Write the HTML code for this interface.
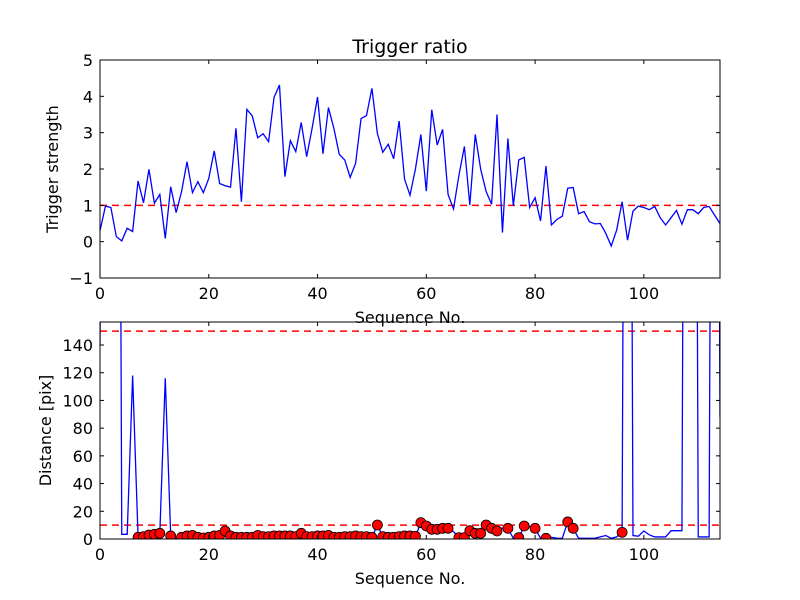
<!DOCTYPE html>
<html><head><meta charset="utf-8"><style>
body{margin:0;background:#fff;}
svg{display:block;font-family:"DejaVu Sans","Liberation Sans",sans-serif;}
</style></head><body>
<svg id="c" width="800" height="600"></svg>
<script>
const indices = Array.from({length:115},(_,i)=>i);
const triggerValues = [0.3,0.98,0.94,0.14,0.02,0.37,0.28,1.67,1.07,1.99,1.06,1.30,0.09,1.51,0.8,1.38,2.2,1.35,1.65,1.35,1.74,2.5,1.6,1.54,1.5,3.12,1.1,3.64,3.46,2.86,2.97,2.75,3.97,4.31,1.79,2.78,2.48,3.28,2.34,3.12,3.98,2.42,3.69,3.12,2.4,2.25,1.77,2.16,3.39,3.47,4.22,2.98,2.46,2.68,2.28,3.32,1.72,1.28,2.0,2.95,1.39,3.63,2.66,3.09,1.3,0.9,1.83,2.62,1.01,2.95,1.99,1.38,1.03,3.5,0.25,2.84,0.99,2.25,2.32,0.94,1.21,0.57,2.08,0.46,0.61,0.7,1.47,1.49,0.77,0.83,0.55,0.49,0.5,0.23,-0.12,0.32,1.1,0.04,0.84,0.98,0.94,0.88,0.97,0.66,0.46,0.66,0.86,0.48,0.88,0.88,0.77,0.94,0.97,0.73,0.5];
const distanceValues = [140,1000,1000,1000,3.4,3.4,118,1.2,1.7,2.9,3.4,4.1,116,2.2,0.5,1.2,2.2,2.6,1.2,0.7,1.2,2.2,2.6,5.8,2.2,1.2,1.2,1.2,1.2,2.6,1.7,1.7,2.2,2.2,2.2,2.2,1.7,4.1,1.7,1.7,2.2,2.2,2.6,1.2,1.2,1.7,1.7,2.2,1.7,1.7,1.2,10.1,1.7,1.2,1.2,1.7,2.2,2.2,2,11.8,9.4,7,7,7.7,7.7,5.3,1,1,6,4.1,4.1,10.1,7.7,5.8,8,7.7,0.5,1,9.4,9,7.7,0.5,0.5,1.2,0.5,0.5,12.3,7.7,0.5,0.5,0.5,0.5,1.5,2.5,0.5,1.5,4.8,1000,2.5,2,5.8,3,1.5,1.5,1.5,6,6,6,1000,1000,1.5,1.5,1.5,1000,88];
const triggerThreshold = 1;
const distanceThreshold = [10,150];
const xTicks = [0,20,40,60,80,100];
const topYTicks = [-1,0,1,2,3,4,5];
const botYTicks = [0,20,40,60,80,100,120,140];

const NS="http://www.w3.org/2000/svg", svg=document.getElementById('c');
function mk(t,a,p){const e=document.createElementNS(NS,t);for(const k in a)e.setAttribute(k,a[k]);(p||svg).appendChild(e);return e;}
const L=100,R=720,X0=0,X1=114;
const sx=v=>L+(v-X0)/(X1-X0)*(R-L);

function panel(name,top,bot,y0,y1,yt,vals,hlines,xlabel,ylabel,ylx,title){
  const sy=v=>bot-(v-y0)/(y1-y0)*(bot-top);
  const g=mk('g',{});
  
  
  const cp=mk('clipPath',{id:name+'-clip'},g);mk('rect',{x:L,y:top,width:R-L,height:bot-top},cp);
  const plot=mk('g',{'clip-path':'url(#'+name+'-clip)'},g);
  hlines.forEach(h=>{const l=mk('line',{x1:L,x2:R,y1:sy(h),y2:sy(h),stroke:'#f00','stroke-width':1.5,'stroke-dasharray':'7,5'},plot);
    });
  const pl=mk('polyline',{points:vals.map((v,i)=>sx(indices[i])+','+sy(v)).join(' '),fill:'none',stroke:'#00f','stroke-width':1.3},plot);
  
  const frame=mk('rect',{x:L,y:top,width:R-L,height:bot-top,fill:'none',stroke:'#000','stroke-width':1},g);
  
  xTicks.forEach(t=>{const x=sx(t);mk('line',{x1:x,x2:x,y1:bot,y2:bot-4,stroke:'#000'},g);mk('line',{x1:x,x2:x,y1:top,y2:top+4,stroke:'#000'},g);
    const tx=mk('text',{x:x,y:bot+21,'text-anchor':'middle','font-size':16},g);tx.textContent=t;
    });
  yt.forEach(t=>{const y=sy(t);mk('line',{x1:L,x2:L+4,y1:y,y2:y,stroke:'#000'},g);mk('line',{x1:R,x2:R-4,y1:y,y2:y,stroke:'#000'},g);
    const tx=mk('text',{x:L-7,y:y+6,'text-anchor':'end','font-size':16},g);tx.textContent=t<0?'\u2212'+(-t):t;
    });
  const xl=mk('text',{x:(L+R)/2,y:bot+45,'text-anchor':'middle','font-size':16},g);xl.textContent=xlabel;
  
  const yl=mk('text',{x:ylx,y:(top+bot)/2,'text-anchor':'middle','font-size':16,transform:'rotate(-90 '+ylx+' '+(top+bot)/2+')'},g);yl.textContent=ylabel;
  
  if(title){const tt=mk('text',{x:(L+R)/2,y:top-7,'text-anchor':'middle','font-size':19},g);tt.textContent=title;
    }
  return {sy,plot};
}
panel('trigger-panel',60,278,-1,5,topYTicks,triggerValues,[triggerThreshold],'Sequence No.','Trigger strength',58,'Trigger ratio');
const b=panel('distance-panel',322,539,0,156.6,botYTicks,distanceValues,distanceThreshold,'Sequence No.','Distance [pix]',51,null);
distanceValues.forEach((v,i)=>{
  if(triggerValues[i]>triggerThreshold){
    const c=mk('circle',{cx:sx(indices[i]),cy:b.sy(v),r:5,fill:'#f00',stroke:'#000','stroke-width':0.8},b.plot);
    
    
  }
});
</script>
</body></html>
